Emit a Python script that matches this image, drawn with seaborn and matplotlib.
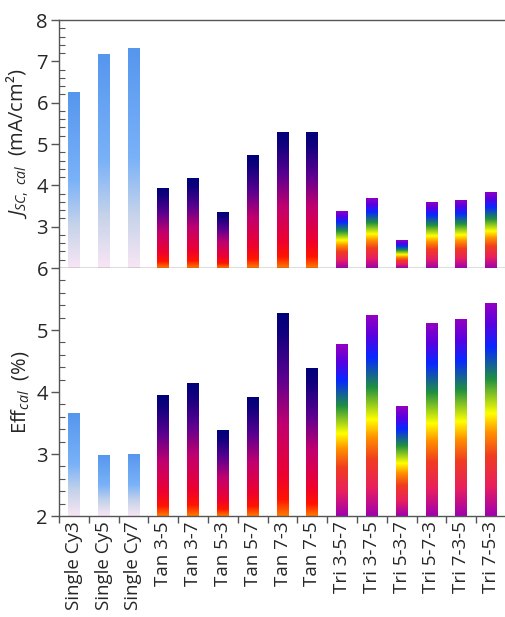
import numpy as np
import pandas as pd
import matplotlib
matplotlib.use("Agg")
import matplotlib.pyplot as plt
import seaborn as sns
from matplotlib.colors import LinearSegmentedColormap

categories = ["Single Cy3", "Single Cy5", "Single Cy7",
              "Tan 3-5", "Tan 3-7", "Tan 5-3", "Tan 5-7", "Tan 7-3", "Tan 7-5",
              "Tri 3-5-7", "Tri 3-7-5", "Tri 5-3-7", "Tri 5-7-3", "Tri 7-3-5", "Tri 7-5-3"]
groups = ["Single"] * 3 + ["Tan"] * 6 + ["Tri"] * 6
jsc_values = [6.25, 7.18, 7.32,
              3.94, 4.17, 3.36, 4.73, 5.30, 5.30,
              3.38, 3.70, 2.67, 3.60, 3.65, 3.84]
eff_values = [3.66, 2.99, 3.00,
              3.95, 4.15, 3.38, 3.92, 5.28, 4.38,
              4.77, 5.24, 3.77, 5.11, 5.17, 5.44]

df = pd.DataFrame({"cat": categories, "group": groups,
                   "jsc": jsc_values, "eff": eff_values})

cmaps = {
    "Single": LinearSegmentedColormap.from_list("single", [
        (0.0, "#f8e6f4"), (0.25, "#c4d2ea"), (0.5, "#7ab2f8"),
        (1.0, "#5596ee")]),
    "Tan": LinearSegmentedColormap.from_list("tan", [
        (0.0, "#ff7a00"), (0.08, "#ff1400"), (0.2, "#ee0030"),
        (0.45, "#c00070"), (0.68, "#5a0090"), (0.9, "#10007e"),
        (1.0, "#00007a")]),
    "Tri": LinearSegmentedColormap.from_list("tri", [
        (0.0, "#a000b0"), (0.14, "#e8205e"), (0.28, "#f03c20"),
        (0.39, "#ff9000"), (0.48, "#ffff00"), (0.64, "#209040"),
        (0.79, "#0828ff"), (0.9, "#5a00e0"), (1.0, "#9400c0")]),
}

sns.set_style("white")
plt.rcParams["font.family"] = ["Open Sans", "DejaVu Sans"]
plt.rcParams["mathtext.fontset"] = "custom"
plt.rcParams["mathtext.rm"] = "Open Sans"
plt.rcParams["mathtext.it"] = "Open Sans:italic"

fig = plt.figure(figsize=(5.06, 6.17), dpi=100)
W, H = 506, 617
left, right = 59 / W, 1.0
ax1 = fig.add_axes([left, 1 - 268 / H, right - left, (268 - 20) / H])
ax2 = fig.add_axes([left, 1 - 516 / H, right - left, (516 - 268) / H])

grad = np.linspace(0, 1, 256).reshape(-1, 1)


def draw(ax, col, ymin, ymax):
    sns.barplot(data=df, x="cat", y=col, ax=ax, width=0.4,
                color="white", edgecolor="none", linewidth=0)
    ax.set_ylim(ymin, ymax)
    ax.set_xlim(-0.5, len(categories) - 0.5)
    for patch, grp in zip(ax.patches, df["group"]):
        x0 = patch.get_x()
        w = patch.get_width()
        top = patch.get_height()
        patch.set_facecolor("none")
        im = ax.imshow(grad, cmap=cmaps[grp], origin="lower", aspect="auto",
                       extent=[x0, x0 + w, ymin, top], zorder=2,
                       interpolation="bilinear")
        im.set_clip_path(patch)
    ax.set_xlim(-0.5, len(categories) - 0.5)
    ax.set_ylim(ymin, ymax)
    ax.set_xlabel("")
    for s in ["left", "bottom", "top"]:
        ax.spines[s].set_color("#555555")
        ax.spines[s].set_linewidth(1.0)
    ax.spines["right"].set_visible(False)
    ax.yaxis.set_major_locator(matplotlib.ticker.MultipleLocator(1))
    ax.yaxis.set_minor_locator(matplotlib.ticker.MultipleLocator(0.2))
    ax.tick_params(axis="y", which="major", direction="out", length=6,
                   width=1, color="#555555", labelsize=14.5, left=True, pad=2)
    ax.tick_params(axis="y", which="minor", direction="in", length=4,
                   width=0.8, color="#555555", left=True)


draw(ax1, "jsc", 2, 8)
draw(ax2, "eff", 2, 6)

ax1.set_xticks([])
ax1.spines["top"].set_visible(True)
ax2.spines["top"].set_visible(False)
ax1.set_yticks([3, 4, 5, 6, 7, 8])
ax2.set_yticks([2, 3, 4, 5, 6])

ax2.set_xticks(np.arange(len(categories)))
ax2.set_xticklabels(categories, rotation=90, fontsize=13.5)
ax2.set_xticks(np.arange(-0.5, len(categories), 1.0), minor=True)
ax2.tick_params(axis="x", which="major", length=0, pad=4)
ax2.tick_params(axis="x", which="minor", direction="out", length=5,
                width=1, color="#555555", bottom=True)

ax1.set_ylabel(r"$J_{SC,\ cal}$  (mA/cm²)", fontsize=14.5)
ax2.set_ylabel(r"Eff$_{cal}$  (%)", fontsize=14.5)
ax1.yaxis.set_label_coords(-0.062, 0.5)
ax2.yaxis.set_label_coords(-0.062, 0.5)

fig.savefig("out.png", dpi=100)
